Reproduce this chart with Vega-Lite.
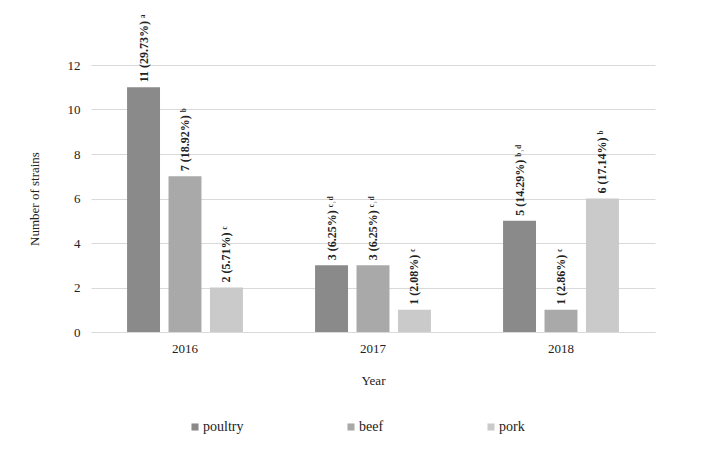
{
  "$schema": "https://vega.github.io/schema/vega-lite/v6.json",
  "autosize": "none",
  "width": 564,
  "height": 267,
  "padding": {"left": 91, "top": 65, "right": 47, "bottom": 141},
  "background": "white",
  "config": {
    "font": "Times New Roman, Liberation Serif, serif",
    "view": {"stroke": null}
  },
  "data": {
    "values": [
      {"year": "2016", "type": "poultry", "count": 11, "label": "11 (29.73%) ᵃ"},
      {"year": "2016", "type": "beef", "count": 7, "label": "7 (18.92%) ᵇ"},
      {"year": "2016", "type": "pork", "count": 2, "label": "2 (5.71%) ᶜ"},
      {"year": "2017", "type": "poultry", "count": 3, "label": "3 (6.25%) ᶜ˒ᵈ"},
      {"year": "2017", "type": "beef", "count": 3, "label": "3 (6.25%) ᶜ˒ᵈ"},
      {"year": "2017", "type": "pork", "count": 1, "label": "1 (2.08%) ᶜ"},
      {"year": "2018", "type": "poultry", "count": 5, "label": "5 (14.29%) ᵇ˒ᵈ"},
      {"year": "2018", "type": "beef", "count": 1, "label": "1 (2.86%) ᶜ"},
      {"year": "2018", "type": "pork", "count": 6, "label": "6 (17.14%) ᵇ"}
    ]
  },
  "encoding": {
    "x": {
      "field": "year", "type": "nominal",
      "scale": {"paddingInner": 0, "paddingOuter": 0},
      "axis": {
        "title": "Year", "labelAngle": 0, "ticks": false,
        "domainColor": "#d9d9d9", "labelFont": "Times New Roman, Liberation Serif, serif", "labelFontSize": 13,
        "labelColor": "#222", "labelPadding": 10, "titleFont": "Times New Roman, Liberation Serif, serif",
        "titleFontSize": 13, "titleFontWeight": "normal", "titleColor": "#222", "titlePadding": 19
      }
    },
    "xOffset": {
      "field": "type", "type": "nominal", "sort": ["poultry", "beef", "pork"],
      "scale": {"paddingInner": 0.205, "paddingOuter": 0.87}
    },
    "y": {
      "field": "count", "type": "quantitative",
      "scale": {"domain": [0, 12]},
      "axis": {
        "title": "Number of strains", "values": [0, 2, 4, 6, 8, 10, 12],
        "domain": false, "ticks": false, "gridColor": "#d9d9d9",
        "labelFont": "Times New Roman, Liberation Serif, serif", "labelFontSize": 13, "labelColor": "#222", "labelPadding": 11,
        "titleFont": "Times New Roman, Liberation Serif, serif", "titleFontSize": 13, "titleFontWeight": "normal",
        "titleColor": "#222", "titlePadding": 26
      }
    }
  },
  "layer": [
    {
      "mark": {"type": "bar"},
      "encoding": {
        "color": {
          "field": "type", "type": "nominal", "sort": ["poultry", "beef", "pork"],
          "scale": {"domain": ["poultry", "beef", "pork"], "range": ["#8a8a8a", "#a9a9a9", "#cacaca"]},
          "legend": {
            "title": null, "orient": "none", "direction": "horizontal",
            "legendX": 97, "legendY": 355,
            "symbolType": "square", "symbolSize": 50, "symbolStrokeWidth": 0,
            "labelFont": "Times New Roman, Liberation Serif, serif", "labelFontSize": 14, "labelColor": "#222",
            "labelOffset": 1, "columnPadding": 100
          }
        }
      }
    },
    {
      "mark": {
        "type": "text", "angle": -90, "align": "left", "baseline": "middle",
        "dx": 5, "font": "Times New Roman, Liberation Serif, serif", "fontSize": 12, "fontWeight": "bold", "color": "#222"
      },
      "encoding": {
        "text": {"field": "label"}
      }
    }
  ]
}
